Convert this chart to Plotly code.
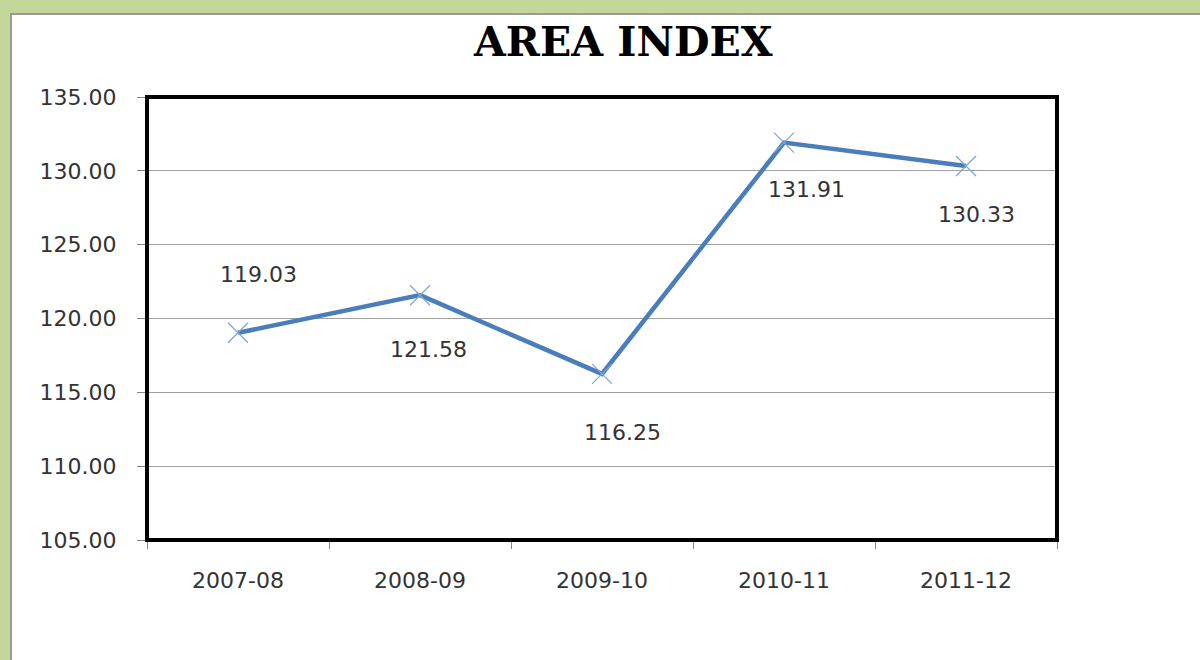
import plotly.graph_objects as go

categories = ["2007-08", "2008-09", "2009-10", "2010-11", "2011-12"]
values = [119.03, 121.58, 116.25, 131.91, 130.33]
y_ticks = [105, 110, 115, 120, 125, 130, 135]
y_tick_labels = ["105.00", "110.00", "115.00", "120.00", "125.00", "130.00", "135.00"]
# label offsets (pixels) relative to each point
label_dx = [20, 8, 20, 22, 10]
label_dy = [58, -54, -59, -47, -49]

W, H = 1200, 660
L, R, T, B = 147, 1057, 97, 540

def px(x):
    return (x - L) / (R - L)

def py(y):
    return (B - y) / (B - T)

fig = go.Figure()
fig.add_trace(go.Scatter(
    x=categories, y=values, mode="lines+markers",
    line=dict(color="#4a7ebb", width=4.5),
    marker=dict(symbol="x-thin", size=20, color="#7fa7d9",
                line=dict(width=1.3, color="#7fa7d9")),
    hoverinfo="x+y", showlegend=False,
))

for c, v, dx, dy in zip(categories, values, label_dx, label_dy):
    fig.add_annotation(x=c, y=v, xref="x", yref="y", text=f"{v:.2f}",
                       showarrow=False, xshift=dx, yshift=dy,
                       font=dict(family="DejaVu Sans", size=22, color="#333333"))

fig.add_annotation(x=px(623), y=py(42), xref="paper", yref="paper",
                   text="<b>AREA INDEX</b>", showarrow=False,
                   xanchor="center", yanchor="middle",
                   font=dict(family="DejaVu Serif", size=41, color="#000000"))

shapes = [
    dict(type="rect", xref="paper", yref="paper", layer="below",
         x0=px(11), x1=px(1215), y0=py(680), y1=py(14),
         fillcolor="#ffffff", line=dict(color="#9a9a9a", width=2)),
    dict(type="rect", xref="paper", yref="paper", layer="above",
         x0=0, x1=1, y0=0, y1=1,
         fillcolor="rgba(0,0,0,0)", line=dict(color="#000000", width=4)),
]

fig.update_layout(
    width=W, height=H,
    margin=dict(l=L, r=W - R, t=T, b=H - B, pad=0),
    paper_bgcolor="#c4d79b",
    plot_bgcolor="#ffffff",
    shapes=shapes,
    font=dict(family="DejaVu Sans", size=22, color="#333333"),
    xaxis=dict(type="category", range=[-0.5, 4.5], tickson="boundaries",
               ticks="outside", ticklen=8, tickcolor="#888888", tickwidth=1,
               showgrid=False, showline=True, linecolor="#555555",
               ticklabelstandoff=21, zeroline=False, fixedrange=True),
    yaxis=dict(range=[105, 135], tickvals=y_ticks, ticktext=y_tick_labels,
               ticks="outside", ticklen=9, tickcolor="#888888", tickwidth=1,
               showgrid=True, gridcolor="#a0a0a0", gridwidth=1,
               showline=True, linecolor="#555555", zeroline=False,
               ticklabelstandoff=16, fixedrange=True),
)

fig.write_html("out.html", config={"displayModeBar": False},
               post_script="document.body.style.margin='0';document.body.style.background='#c4d79b';")
